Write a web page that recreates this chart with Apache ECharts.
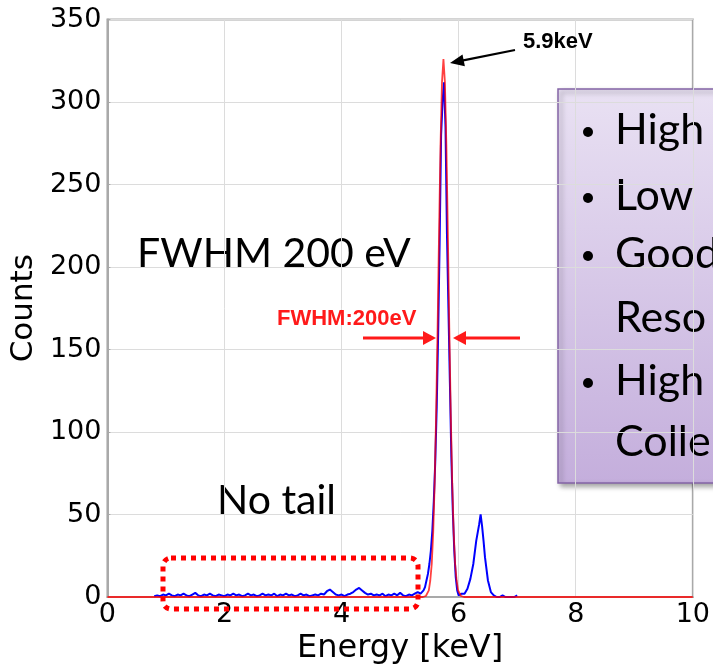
<!DOCTYPE html>
<html>
<head>
<meta charset="utf-8">
<title>Energy spectrum</title>
<script src="https://cdn.jsdelivr.net/npm/echarts@6/dist/echarts.min.js"></script>
<style>
  html, body { margin: 0; padding: 0; background: #fff; }
  #chart { width: 713px; height: 670px; }
</style>
</head>
<body>
<div id="chart"></div>
<script>
// measured spectrum (blue), keV / counts
const energyKeV = [
  0.80, 0.85, 0.90, 0.95, 1.00, 1.05, 1.10, 1.15, 1.20, 1.25, 1.30, 1.35, 1.40, 1.45, 1.50, 1.55,
  1.60, 1.65, 1.70, 1.75, 1.80, 1.85, 1.90, 1.95, 2.00, 2.05, 2.10, 2.15, 2.20, 2.25, 2.30, 2.35,
  2.40, 2.45, 2.50, 2.55, 2.60, 2.65, 2.70, 2.75, 2.80, 2.85, 2.90, 2.95, 3.00, 3.05, 3.10, 3.15,
  3.20, 3.25, 3.30, 3.35, 3.40, 3.45, 3.50, 3.55, 3.60, 3.65, 3.70, 3.75, 3.80, 3.85, 3.90, 3.95,
  4.00, 4.05, 4.10, 4.15, 4.20, 4.25, 4.30, 4.35, 4.40, 4.45, 4.50, 4.55, 4.60, 4.65, 4.70, 4.75,
  4.80, 4.85, 4.90, 4.95, 5.00, 5.05, 5.10, 5.15, 5.20, 5.25, 5.30, 5.35,
  5.375, 5.40, 5.425, 5.45, 5.475, 5.50, 5.525, 5.55, 5.575, 5.60, 5.625, 5.65, 5.675, 5.70,
  5.725, 5.75, 5.775, 5.80, 5.825, 5.85, 5.875, 5.90, 5.925, 5.95, 5.975, 6.00, 6.025, 6.05,
  6.10, 6.15, 6.20, 6.25, 6.30, 6.35, 6.375, 6.40, 6.425, 6.45, 6.50, 6.55, 6.60, 6.65,
  6.70, 6.75, 6.80, 6.85, 6.875, 6.90, 6.95, 7.00
];
const measuredCounts = [
  0.5, 1, 0.5, 1.5, 1, 2, 1, 0.5, 1.5, 1, 2, 1, 0.5, 1.5, 2.5, 1,
  0.5, 1.5, 1, 2, 1, 0.5, 1.5, 1, 0.5, 1.5, 1, 2, 1, 1.5, 0.5, 1,
  2, 1, 1.5, 0.5, 1, 2, 1, 1.5, 1, 2, 0.5, 1.5, 1, 2, 1, 1.5,
  0.5, 1, 2, 1, 1.5, 0.5, 1, 1.5, 1, 2, 1.5, 3.5, 4.5, 3, 1.5, 1,
  1.5, 0.5, 1.5, 2, 3, 4.5, 5.5, 4, 2.5, 1.5, 2, 1, 1.5, 1, 2, 0.5,
  1.5, 1, 2, 1, 2.5, 1, 0.5, 1.5, 1, 2, 3, 2,
  2, 4, 6, 10, 14, 20, 28, 40, 58, 82, 115, 160, 215, 280,
  300, 312, 285, 220, 175, 130, 85, 52, 28, 12, 4, 1, 0, 2,
  2, 5, 11, 20, 34, 44, 50, 43, 34, 24, 10, 3, 1, 0,
  0, 1, 0, 0, 1, 0, 0, 1
];

// gaussian fit (red)
const fitEnergy = [0, 5.39, 5.44, 5.49, 5.515, 5.54, 5.565, 5.59, 5.615, 5.64, 5.665, 5.69, 5.715, 5.74,
  5.765, 5.79, 5.815, 5.84, 5.865, 5.89, 5.915, 5.94, 5.965, 5.99, 6.04, 6.09, 10];
const fitCounts = [0, 0, 0.6, 4, 10, 20, 39, 69, 111, 163, 221, 274, 312, 326,
  312, 274, 221, 163, 111, 69, 39, 20, 10, 4, 0.6, 0, 0];

const xTicks = [0, 2, 4, 6, 8, 10];
const yTicks = [0, 50, 100, 150, 200, 250, 300, 350];

const bullets = ['High', 'Low', 'Good', 'Reso', 'High', 'Colle'];
const bulletMarks = [true, true, true, false, true, false];

let chart = echarts.init(document.getElementById('chart'));

let measured = energyKeV.map((e, i) => [e, measuredCounts[i]]);
let fit = fitEnergy.map((e, i) => [e, fitCounts[i]]);

// text box on the right
let boxY = [130, 196, 254, 318, 381, 442];
let boxChildren = [{
  type: 'rect',
  shape: { x: 558, y: 89, width: 200, height: 394 },
  style: {
    fill: new echarts.graphic.LinearGradient(0, 0, 0, 1, [
      { offset: 0, color: '#e9e1f3' },
      { offset: 1, color: '#c4aedc' }
    ]),
    stroke: '#8464a6',
    lineWidth: 1.5,
    shadowBlur: 5,
    shadowOffsetX: 3,
    shadowOffsetY: 3,
    shadowColor: 'rgba(0,0,0,0.35)'
  }
}];
bullets.forEach((w, i) => {
  if (bulletMarks[i]) {
    boxChildren.push({
      type: 'circle',
      shape: { cx: 588, cy: boxY[i] + 2, r: 5 },
      style: { fill: '#000' }
    });
  }
  boxChildren.push({
    type: 'text',
    x: 615,
    y: boxY[i],
    style: {
      text: w,
      font: '43px Lato',
      fill: '#000',
      verticalAlign: 'middle'
    }
  });
});

let option = {
  backgroundColor: '#fff',
  animation: false,
  grid: {
    left: 105, right: 19, top: 19.5, bottom: 70,
    show: true, borderColor: '#a9a9a9', borderWidth: 2
  },
  xAxis: {
    type: 'value',
    min: xTicks[0], max: xTicks[xTicks.length - 1], interval: 2,
    name: 'Energy [keV]',
    nameLocation: 'middle',
    nameGap: 36,
    nameTextStyle: { fontFamily: 'DejaVu Sans', fontSize: 32, color: '#000' },
    axisLine: { show: true, lineStyle: { color: '#a9a9a9', width: 2 } },
    axisTick: { show: false },
    axisLabel: { fontFamily: 'DejaVu Sans', fontSize: 27, color: '#000', margin: 4 },
    splitLine: { show: true, lineStyle: { color: '#dcdcdc', width: 1 } }
  },
  yAxis: {
    type: 'value',
    min: yTicks[0], max: yTicks[yTicks.length - 1], interval: 50,
    name: 'Counts',
    nameLocation: 'middle',
    nameGap: 63,
    nameTextStyle: { fontFamily: 'DejaVu Sans', fontSize: 31, color: '#000' },
    axisLine: { show: true, lineStyle: { color: '#a9a9a9', width: 2 } },
    axisTick: { show: true, inside: true, length: 3, lineStyle: { color: '#a9a9a9' } },
    axisLabel: { fontFamily: 'DejaVu Sans', fontSize: 27, color: '#000', margin: 6 },
    splitLine: { show: true, lineStyle: { color: '#dcdcdc', width: 1 } }
  },
  series: [
    {
      name: 'measured',
      type: 'line',
      data: measured,
      showSymbol: false,
      lineStyle: { color: '#0000ff', width: 2 },
      z: 2
    },
    {
      name: 'fit',
      type: 'line',
      data: fit,
      showSymbol: false,
      lineStyle: { color: '#ff0000', width: 1.8, opacity: 0.75 },
      z: 3
    }
  ],
  graphic: [
    // big labels
    { type: 'text', x: 137, y: 254, style: { text: 'FWHM 200 eV', font: '41px Lato', fill: '#000', verticalAlign: 'middle' } },
    { type: 'text', x: 217, y: 501, style: { text: 'No tail', font: '41px Lato', fill: '#000', verticalAlign: 'middle' } },
    // red dotted box
    {
      type: 'rect',
      shape: { x: 163, y: 558, width: 255, height: 51, r: 8 },
      style: { fill: 'none', stroke: '#ff0000', lineWidth: 5, lineDash: [5, 5] },
      z: 10
    },
    // FWHM arrows
    { type: 'text', x: 277, y: 319, style: { text: 'FWHM:200eV', font: 'bold 22px "Liberation Sans"', fill: '#ff1a1a', verticalAlign: 'middle' }, z: 10 },
    { type: 'line', shape: { x1: 363, y1: 338, x2: 426, y2: 338 }, style: { stroke: '#ff1a1a', lineWidth: 3 }, z: 10 },
    { type: 'polygon', shape: { points: [[423, 331], [436, 338], [423, 345]] }, style: { fill: '#ff1a1a' }, z: 10 },
    { type: 'line', shape: { x1: 462, y1: 338, x2: 520, y2: 338 }, style: { stroke: '#ff1a1a', lineWidth: 3 }, z: 10 },
    { type: 'polygon', shape: { points: [[466, 331], [453, 338], [466, 345]] }, style: { fill: '#ff1a1a' }, z: 10 },
    // 5.9keV arrow
    { type: 'text', x: 523, y: 42, style: { text: '5.9keV', font: 'bold 22px "Liberation Sans"', fill: '#000', verticalAlign: 'middle' }, z: 10 },
    { type: 'line', shape: { x1: 515, y1: 50, x2: 462, y2: 60.6 }, style: { stroke: '#000', lineWidth: 2.2 }, z: 10 },
    { type: 'polygon', shape: { points: [[450, 63], [464.9, 66.2], [462.5, 54.4]] }, style: { fill: '#000' }, z: 10 },
    // purple text box
    { type: 'group', children: boxChildren, z: 20 }
  ]
};

option && chart.setOption(option);
</script>
</body>
</html>
